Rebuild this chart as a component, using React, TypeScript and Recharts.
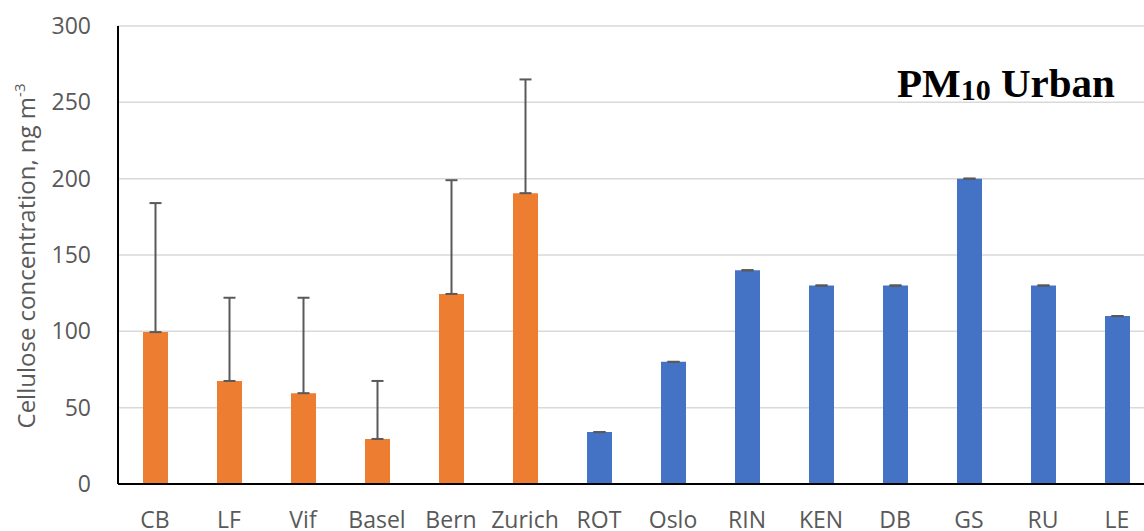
import React from 'react';
import { BarChart, Bar, Cell, ErrorBar, XAxis, YAxis, CartesianGrid } from 'recharts';

// sites: first six are the orange group, the rest blue
const sites = ['CB', 'LF', 'Vif', 'Basel', 'Bern', 'Zurich', 'ROT', 'Oslo', 'RIN', 'KEN', 'DB', 'GS', 'RU', 'LE'];
const cellulose = [99.5, 67.5, 59.5, 29.5, 124.5, 190.5, 34, 80, 140, 130, 130, 200, 130, 110];
const upperErr = [84.5, 54.5, 62.5, 38, 74.5, 74.5, 0, 0, 0, 0, 0, 0, 0, 0];
const yTicks = [0, 50, 100, 150, 200, 250, 300];
const ORANGE_COUNT = 6;

const data = sites.map((name, i) => ({
  name,
  value: cellulose[i],
  err: [0, upperErr[i]],
}));

const FONT = '"Open Sans", sans-serif';
const GREY = '#595959';

const XTick = ({ x, y, payload }: any) => (
  <text x={x} y={y + 44} textAnchor="middle" fill={GREY} fontSize={23} fontFamily={FONT}>
    {payload.value}
  </text>
);

const YTick = ({ x, y, payload }: any) => (
  <text x={x - 27} y={y + 8} textAnchor="end" fill={GREY} fontSize={23} fontFamily={FONT}>
    {payload.value}
  </text>
);

const YLabel = () => (
  <text
    transform="translate(35, 256) rotate(-90)"
    textAnchor="middle"
    fill={GREY}
    fontSize={24}
    fontFamily={FONT}
  >
    Cellulose concentration, ng m
    <tspan fontSize={15} dy={-10}>-3</tspan>
  </text>
);

export default function App() {
  return (
    <div
      style={{
        position: 'absolute',
        left: 0,
        top: 0,
        width: 1144,
        height: 531,
        overflow: 'hidden',
        background: '#fff',
      }}
    >
      <BarChart
        width={1160}
        height={531}
        data={data}
        margin={{ top: 26, right: 6, bottom: 0, left: 0 }}
      >
        <CartesianGrid vertical={false} stroke="#d9d9d9" strokeWidth={1.5} />
        <XAxis
          dataKey="name"
          height={47}
          tickLine={false}
          tickSize={0}
          tickMargin={0}
          axisLine={{ stroke: '#000', strokeWidth: 2 }}
          tick={<XTick />}
          interval={0}
        />
        <YAxis
          width={118}
          domain={[0, 300]}
          ticks={yTicks}
          tickLine={false}
          tickSize={0}
          tickMargin={0}
          axisLine={{ stroke: '#000', strokeWidth: 2 }}
          tick={<YTick />}
          label={<YLabel />}
        />
        <Bar dataKey="value" barSize={25} isAnimationActive={false}>
          {data.map((d, i) => (
            <Cell key={d.name} fill={i < ORANGE_COUNT ? '#ED7D31' : '#4472C4'} />
          ))}
          <ErrorBar dataKey="err" direction="y" width={6} strokeWidth={2} stroke={GREY} />
        </Bar>
      </BarChart>
      <div
        style={{
          position: 'absolute',
          left: 897,
          top: 60,
          fontFamily: '"Liberation Serif", serif',
          fontWeight: 'bold',
          fontSize: 41,
          lineHeight: '46px',
          color: '#000',
          whiteSpace: 'nowrap',
        }}
      >
        PM<span style={{ fontSize: 30, position: 'relative', top: 3 }}>10</span> Urban
      </div>
    </div>
  );
}
